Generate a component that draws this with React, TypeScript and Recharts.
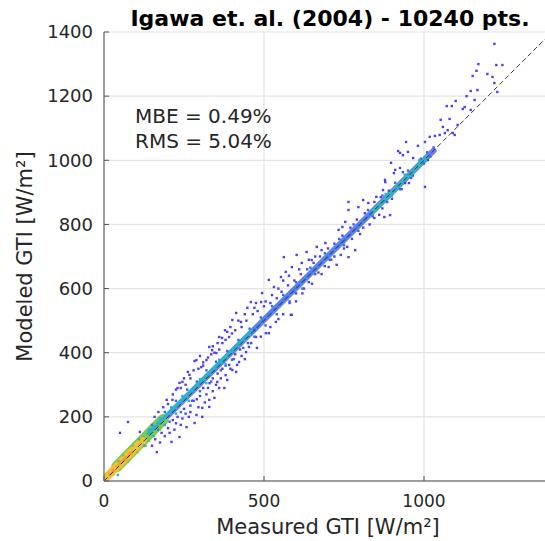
import React from 'react';
import { ComposedChart, Scatter, Line, XAxis, YAxis, CartesianGrid, Label } from 'recharts';

type Pt = { x: number; y: number };
const toPts = (arr: number[][]): Pt[] => arr.map(([x, y]) => ({ x, y }));

const xTicks = [0, 500, 1000];
const yTicks = [0, 200, 400, 600, 800, 1000, 1200, 1400];

// sparse outliers (dark blue / violet)
const sparsePts = toPts([
  [1220, 1363], [1170, 1300], [1226, 1297], [1245, 1297], [1164, 1279], [1152, 1263], [1198, 1269], [1214, 1260],
  [1220, 1241], [1229, 1213], [1146, 1216], [1167, 1219], [1133, 1200], [1158, 1188], [1099, 1185], [1071, 1169],
  [1087, 1169], [1127, 1166], [1121, 1160], [1146, 1157], [1052, 1126], [1080, 1129], [1059, 1104], [1105, 1110],
  [1074, 1094], [1090, 1085], [1018, 1073], [1034, 1076], [1049, 1079], [1065, 1085], [1096, 1079], [944, 1057],
  [981, 1045], [1003, 1057], [919, 1029], [934, 1016], [966, 1007], [897, 992], [925, 976], [878, 939], [906, 960],
  [953, 929], [1012, 1001], [1003, 917], [894, 829], [925, 1023], [950, 1026], [910, 970], [934, 963], [879, 932],
  [872, 907],
  [764, 870], [810, 876], [826, 867], [851, 886], [795, 854], [764, 845], [876, 823], [754, 808], [733, 783],
  [745, 792], [692, 742], [680, 720], [665, 730], [633, 714], [649, 689], [602, 705], [618, 680], [562, 698],
  [587, 667], [553, 636], [568, 652], [515, 627], [531, 605], [494, 586], [475, 555], [491, 558], [584, 518],
  [727, 674], [702, 667], [764, 698], [785, 720], [941, 929],
  [459, 558], [413, 524], [401, 502], [428, 496], [385, 465], [369, 446], [391, 449], [338, 408], [351, 399],
  [283, 374], [320, 377], [304, 355], [267, 331], [245, 309], [230, 290], [214, 253], [587, 518], [537, 496],
  [515, 461], [478, 415], [444, 402], [416, 362], [413, 340], [385, 315], [360, 290], [329, 253], [307, 228],
  [289, 206], [354, 309], [391, 362],
  [75, 184], [50, 150], [112, 153], [158, 200], [196, 253], [236, 306], [289, 377], [329, 418], [360, 449],
  [236, 137], [211, 122], [258, 168], [283, 181], [307, 200], [329, 231], [345, 259], [376, 290], [401, 346],
  [422, 371], [453, 418], [475, 449], [506, 461], [165, 90],
  [250, 320], [262, 340], [300, 390], [310, 370], [340, 420], [355, 430], [378, 470], [395, 480], [420, 500],
  [440, 520], [448, 540], [470, 540], [505, 560], [525, 580], [545, 600], [560, 625], [578, 640], [610, 660],
  [640, 690], [660, 700],
  [220, 160], [240, 175], [265, 200], [270, 215], [295, 230], [315, 245], [320, 270], [340, 280], [350, 300],
  [365, 320], [380, 330], [395, 350], [430, 390], [440, 380], [460, 430], [490, 450], [520, 480], [545, 505],
  [560, 520], [600, 560], [620, 585], [650, 615], [680, 645], [710, 690], [740, 705], [760, 730], [800, 770],
  [830, 800], [860, 830],
  [150, 110], [160, 130], [175, 120], [180, 150], [190, 140], [200, 165], [205, 150], [215, 190], [225, 180],
  [230, 200], [245, 195], [250, 225], [255, 210], [270, 235], [280, 250], [290, 255], [300, 265], [310, 290],
  [325, 290], [330, 305], [340, 320], [355, 335], [370, 350], [380, 360], [405, 380], [410, 395], [425, 410],
  [450, 430], [470, 470],
  [170, 215], [185, 230], [200, 240], [215, 270], [225, 285], [240, 290], [255, 300], [270, 320], [280, 345],
  [295, 350], [310, 360], [325, 385], [335, 395], [345, 400], [360, 410], [370, 430], [380, 440], [400, 460],
  [410, 470], [430, 480], [445, 500], [465, 520], [480, 530], [500, 545], [520, 555], [540, 570], [555, 590],
  [575, 610], [595, 625], [615, 645], [635, 660], [655, 680], [675, 700], [700, 725], [720, 740], [745, 765],
  [770, 790], [790, 815], [815, 835], [845, 870], [865, 885], [890, 905],
  [580, 555], [600, 585], [625, 600], [640, 620], [670, 650], [690, 670], [720, 700], [750, 725], [775, 755],
  [810, 790], [845, 820], [870, 850], [900, 880], [930, 910], [960, 945],
]);

// points close to the band (blue)
const bluePts = toPts([
  [150, 175], [170, 160], [190, 215], [205, 185], [225, 250], [240, 215], [260, 285], [275, 250], [290, 310],
  [300, 280], [320, 345], [335, 310], [350, 372], [365, 345], [385, 405], [400, 378], [420, 440], [435, 415],
  [455, 475], [470, 450], [490, 510], [505, 485], [525, 545], [540, 520], [560, 580], [580, 560], [600, 620],
  [620, 600], [645, 665], [660, 645], [690, 710], [705, 690], [735, 755], [750, 735], [780, 800], [795, 780],
  [825, 845], [840, 825], [870, 890], [885, 870], [910, 930], [925, 910], [950, 968], [965, 952], [990, 1005],
  [1000, 990], [1010, 1025], [1020, 1012], [1030, 1040],
]);

const cyanPts = toPts([
  [110, 130], [125, 110], [140, 160], [155, 140], [175, 195], [190, 175], [210, 230], [225, 210], [245, 265],
  [265, 250], [300, 318], [320, 305], [360, 378], [380, 365], [880, 895], [900, 890], [940, 955], [960, 950],
  [985, 1000], [1005, 1000], [43, 19],
]);

const greenPts = toPts([
  [60, 80], [75, 60], [90, 110], [105, 90], [120, 140], [140, 125], [160, 178], [175, 160], [45, 62], [130, 110],
]);

const yellowPts = toPts([
  [20, 30], [30, 20], [40, 52], [55, 45], [70, 82], [85, 75], [100, 110], [35, 40],
]);

// dense core of the cloud, along the diagonal
const blueBand = toPts([[120, 125], [1030, 1030]]);
const cyanLow = toPts([[140, 150], [470, 475]]);
const coreMid = toPts([[470, 475], [840, 840]]);
const cyanHigh = toPts([[840, 840], [1012, 1012]]);
const greenBand = toPts([[40, 45], [185, 192]]);
const yellowBand = toPts([[12, 16], [120, 125]]);
const orangeCore = toPts([[18, 22], [85, 88]]);
const oneToOne = toPts([[0, 0], [1400, 1400]]);

const FONT = '"DejaVu Sans", sans-serif';
const TXT = '#262626';

const dot = (color: string) => (p: any) => (
  <rect x={p.cx - 1.2} y={p.cy - 1.2} width={2.4} height={2.4} fill={color} />
);

const YTick = (p: any) => (
  <g>
    <line x1={p.x + 11} x2={p.x + 16} y1={p.y} y2={p.y} stroke="#555" />
    <text x={p.x} y={p.y} dy="0.35em" textAnchor="end" fontSize={18} fill={TXT} fontFamily={FONT}>
      {p.payload.value}
    </text>
  </g>
);

const XTick = (p: any) => (
  <g>
    <line x1={p.x} x2={p.x} y1={p.y - 14} y2={p.y - 19} stroke="#555" />
    <text x={p.x} y={p.y} dy="0.72em" textAnchor="middle" fontSize={17} fill={TXT} fontFamily={FONT}>
      {p.payload.value}
    </text>
  </g>
);

const band = (data: Pt[], color: string, w: number, opacity = 1) => (
  <Line
    data={data}
    dataKey="y"
    type="linear"
    stroke={color}
    strokeWidth={w}
    strokeOpacity={opacity}
    strokeLinecap="round"
    dot={false}
    activeDot={false}
    isAnimationActive={false}
  />
);

export default function App() {
  return (
    <div
      style={{
        position: 'absolute', left: 0, top: 0, width: 545, height: 541,
        overflow: 'hidden', background: '#fff', fontFamily: FONT,
      }}
    >
      <div
        style={{
          position: 'absolute', left: 0, width: 660, top: 6, textAlign: 'center',
          fontSize: 22, fontWeight: 'bold', color: '#000', lineHeight: '26px', whiteSpace: 'nowrap',
        }}
      >
        Igawa et. al. (2004) - 10240 pts.
      </div>
      <ComposedChart width={580} height={541} margin={{ top: 32, right: 28, bottom: 0, left: 0 }}>
        <CartesianGrid stroke="#e3e3e3" strokeWidth={1.2} />
        <XAxis
          type="number"
          dataKey="x"
          domain={[0, 1400]}
          ticks={xTicks}
          allowDataOverflow
          height={60}
          tickLine={false}
          tickSize={0}
          tickMargin={14}
          tick={<XTick />}
          axisLine={{ stroke: '#808080', strokeWidth: 1.5 }}
        >
          <Label
            value="Measured GTI [W/m²]"
            position="insideBottom"
            offset={7}
            style={{ fontSize: 21, fill: TXT, fontFamily: FONT }}
          />
        </XAxis>
        <YAxis
          type="number"
          dataKey="y"
          domain={[0, 1400]}
          ticks={yTicks}
          allowDataOverflow
          width={104}
          tickLine={false}
          tickSize={0}
          tickMargin={11}
          tick={<YTick />}
          axisLine={{ stroke: '#808080', strokeWidth: 1.5 }}
        >
          <Label
            content={(props: any) => {
              const vb = props.viewBox;
              const cx = 32;
              const cy = vb.y + vb.height / 2;
              return (
                <text
                  x={cx}
                  y={cy}
                  transform={`rotate(-90 ${cx} ${cy})`}
                  textAnchor="middle"
                  fontSize={21}
                  fill={TXT}
                  fontFamily={FONT}
                >
                  Modeled GTI [W/m²]
                </text>
              );
            }}
          />
        </YAxis>
        <Scatter data={sparsePts} fill="#4b3ff0" shape={dot('#4b3ff0')} isAnimationActive={false} />
        {band(blueBand, '#4a5cf0', 6, 0.8)}
        {band(greenBand, '#7cc850', 11)}
        <Scatter data={bluePts} fill="#3d63f2" shape={dot('#3d63f2')} isAnimationActive={false} />
        <Scatter data={greenPts} fill="#6cc860" shape={dot('#6cc860')} isAnimationActive={false} />
        <Scatter data={cyanPts} fill="#22b4cc" shape={dot('#22b4cc')} isAnimationActive={false} />
        {band(cyanLow, '#2cb3cc', 4)}
        {band(coreMid, '#3a8ae6', 2.5)}
        {band(cyanHigh, '#26c0b8', 3.5)}
        {band(yellowBand, '#f0c232', 8)}
        <Scatter data={yellowPts} fill="#e8c838" shape={dot('#e8c838')} isAnimationActive={false} />
        {band(orangeCore, '#f0a030', 3.5)}
        <Line
          data={oneToOne}
          dataKey="y"
          type="linear"
          stroke="#222"
          strokeWidth={0.9}
          strokeDasharray="5 3"
          dot={false}
          activeDot={false}
          isAnimationActive={false}
        />
      </ComposedChart>
      <div
        style={{
          position: 'absolute', left: 135, top: 104, fontSize: 20, lineHeight: '25px', color: TXT,
          whiteSpace: 'pre',
        }}
      >
        {'MBE = 0.49%\nRMS = 5.04%'}
      </div>
    </div>
  );
}
